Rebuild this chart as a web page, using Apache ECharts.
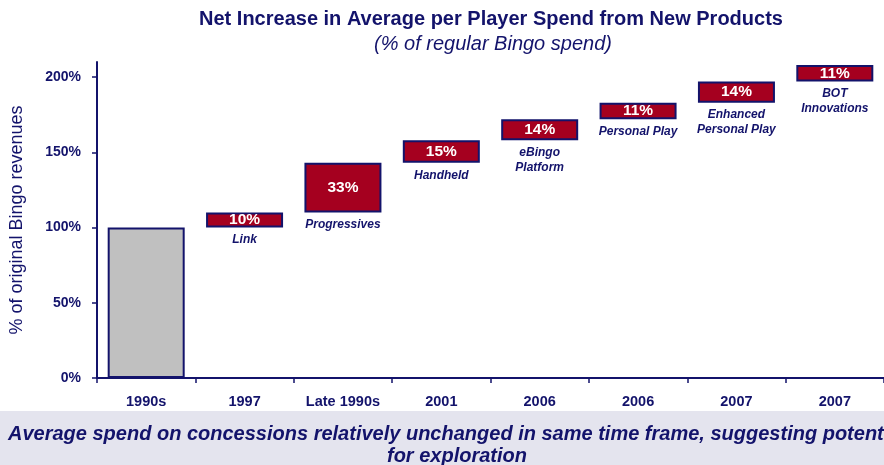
<!DOCTYPE html>
<html>
<head>
<meta charset="utf-8">
<script src="https://cdn.jsdelivr.net/npm/echarts@6/dist/echarts.min.js"></script>
<style>
html,body{margin:0;padding:0;background:#fff;}
#chart{width:884px;height:465px;}
</style>
</head>
<body>
<div id="chart"></div>
<script>
const categories = ['1990s', '1997', 'Late 1990s', '2001', '2006', '2006', '2007', '2007'];
const baseValues = [0, 100, 110, 143, 158, 172, 183, 197];
const barValues = [100, 10, 33, 15, 14, 11, 14, 11];
const productNames = ['', 'Link', 'Progressives', 'Handheld', 'eBingo\nPlatform', 'Personal Play', 'Enhanced\nPersonal Play', 'BOT\nInnovations'];
const yTicks = [0, 50, 100, 150, 200];

const NAVY = '#13136b';
const chart = echarts.init(document.getElementById('chart'));

chart.setOption({
  animation: false,
  backgroundColor: '#ffffff',
  title: [
    {
      text: 'Net Increase in Average per Player Spend from New Products',
      left: 486, top: 4, textAlign: 'center',
      textStyle: {fontFamily: 'Liberation Sans, Arial', fontSize: 20, fontWeight: 'bold', color: NAVY}
    },
    {
      text: '(% of regular Bingo spend)',
      left: 488, top: 29, textAlign: 'center',
      textStyle: {fontFamily: 'Liberation Sans, Arial', fontSize: 20, fontWeight: 'normal', fontStyle: 'italic', color: NAVY}
    }
  ],
  grid: {left: 97, right: -2, top: 62, bottom: 87, containLabel: false},
  xAxis: {
    type: 'category',
    data: categories,
    axisLine: {lineStyle: {color: NAVY, width: 2}},
    axisTick: {show: true, length: 5, lineStyle: {color: NAVY, width: 1.5}},
    axisLabel: {interval: 0, margin: 16, color: NAVY, fontFamily: 'Liberation Sans, Arial', fontSize: 14.5, fontWeight: 'bold'}
  },
  yAxis: {
    type: 'value',
    min: 0, max: 210,
    name: '% of original Bingo revenues',
    nameLocation: 'middle',
    nameGap: 71,
    nameTextStyle: {fontFamily: 'Liberation Sans, Arial', fontSize: 18, color: NAVY},
    splitLine: {show: false},
    axisLine: {show: true, lineStyle: {color: NAVY, width: 2}},
    axisTick: {show: true, length: 5, customValues: yTicks, lineStyle: {color: NAVY, width: 1.5}},
    axisLabel: {customValues: yTicks, margin: 16, color: NAVY, fontFamily: 'Liberation Sans, Arial', fontSize: 14, fontWeight: 'bold', formatter: '{value}%'}
  },
  series: [
    {
      type: 'bar',
      stack: 'w',
      data: baseValues,
      barWidth: 77,
      itemStyle: {color: 'rgba(0,0,0,0)'},
      silent: true,
      label: {
        show: true,
        position: 'insideTop',
        distance: 5,
        formatter: p => productNames[p.dataIndex],
        color: NAVY,
        fontFamily: 'Liberation Sans, Arial',
        fontSize: 12,
        fontWeight: 'bold',
        fontStyle: 'italic',
        lineHeight: 15
      }
    },
    {
      type: 'bar',
      stack: 'w',
      barWidth: 77,
      data: barValues.map((v, i) => i === 0
        ? {value: v, itemStyle: {color: '#c0c0c0'}, label: {show: false}}
        : {value: v}),
      itemStyle: {color: '#a5001f', borderColor: NAVY, borderWidth: 2},
      label: {
        show: true,
        position: 'inside',
        formatter: '{c}%',
        color: '#ffffff',
        fontFamily: 'Liberation Sans, Arial',
        fontSize: 15.5,
        fontWeight: 'bold'
      }
    }
  ],
  graphic: [
    {type: 'rect', left: 0, top: 411, shape: {width: 884, height: 54}, style: {fill: '#e4e4ee'}, z: -1},
    {
      type: 'text', x: 457, y: 423,
      style: {
        text: 'Average spend on concessions relatively unchanged in same time frame, suggesting potential\nfor exploration',
        textAlign: 'center', textVerticalAlign: 'top',
        font: 'italic bold 20px "Liberation Sans", Arial',
        lineHeight: 22,
        fill: NAVY
      }
    }
  ]
});
</script>
</body>
</html>
